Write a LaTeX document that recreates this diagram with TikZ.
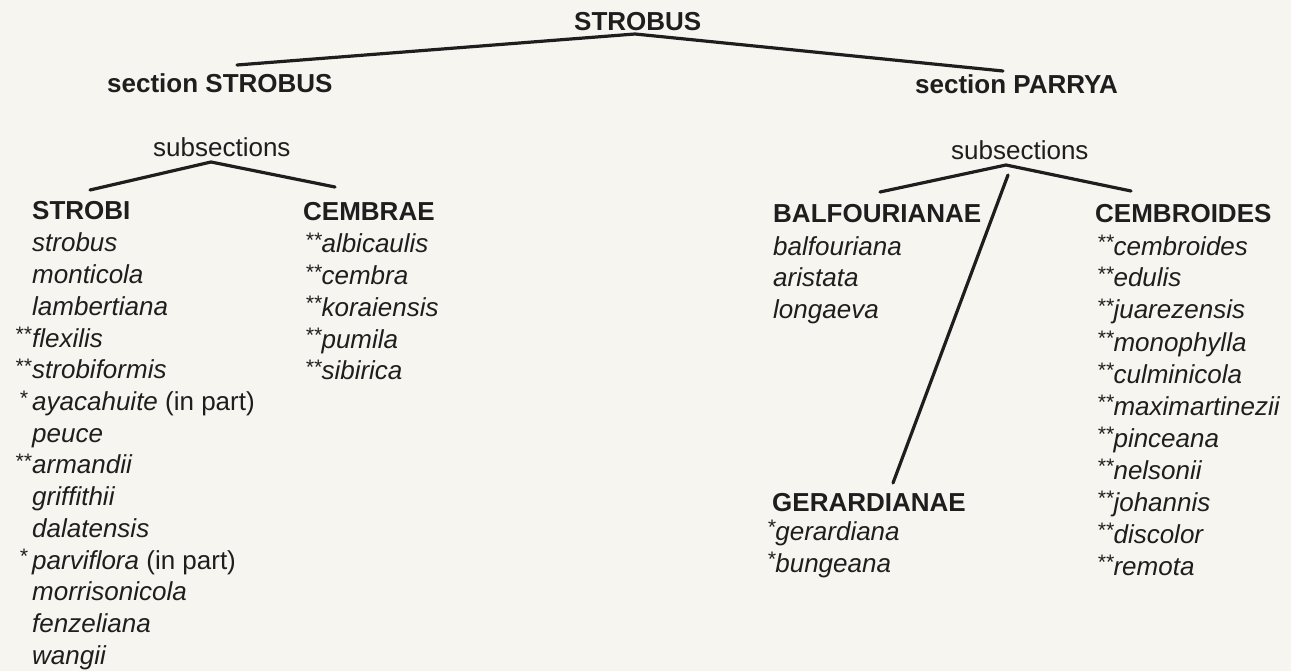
\documentclass[tikz,border=0pt]{standalone}
\usepackage{fontspec}
\setmainfont{Liberation Sans}
\definecolor{paper}{RGB}{246,245,240}
\definecolor{ink}{RGB}{30,30,30}
% small raised asterisk, as in the printed key
\newcommand\tstar{\raisebox{5.5pt}{\fontsize{21}{32}\selectfont*}}

\begin{document}
\begin{tikzpicture}[x=1pt, y=-1pt,
  every node/.style={inner sep=0pt, anchor=base west, text=ink},
  group/.style={font=\fontsize{26}{32}\selectfont\bfseries},
  subs/.style={font=\fontsize{26}{32}\selectfont},
  taxon/.style={font=\fontsize{26}{32}\selectfont\itshape},
  branch/.style={draw=ink, line width=3.2pt, line join=round, line cap=round}]
% Set the page size and paper colour
\fill[paper] (0,0) rectangle (1291,671);
\useasboundingbox (0,0) rectangle (1291,671);
\def\rowsep{31.7}

% Subgenus and its two sections
\node[group] (strobus) at (574,30.7) {STROBUS};
\node[group] (secstrobus) at (107,93) {section STROBUS};
\node[group] (secparrya) at (915,94) {section PARRYA};
\coordinate (top) at (635,34);
\coordinate (topL) at (237,65);
\coordinate (topR) at (1003,71);
\draw[branch] (topL) -- (top) -- (topR);

% section STROBUS
\node[subs] (subsL) at (153,157) {subsections};
\coordinate (forkL) at (211,162);
\coordinate (strobiEnd) at (90,190);
\coordinate (cembraeEnd) at (335,187);
\draw[branch] (strobiEnd) -- (forkL) -- (cembraeEnd);

\node[group] (strobi) at (32,220) {STROBI};
\foreach \taxname [count=\i from 0] in {strobus, monticola, lambertiana,
    \llap{\tstar\tstar\hspace{1pt}}flexilis, \llap{\tstar\tstar\hspace{1pt}}strobiformis,
    \llap{\tstar\hspace{5pt}}ayacahuite \textup{(in part)}, peuce,
    \llap{\tstar\tstar\hspace{1pt}}armandii, griffithii, dalatensis,
    \llap{\tstar\hspace{5pt}}parviflora \textup{(in part)},
    morrisonicola, fenzeliana, wangii}
  \node[taxon] (strobi\i) at (32,252+\i*\rowsep) {\taxname};

\node[group] (cembrae) at (303,221) {CEMBRAE};
\foreach \taxname [count=\i from 0] in {albicaulis, cembra, koraiensis, pumila, sibirica}
  \node[taxon] (cembrae\i) at (305,253+\i*\rowsep) {\tstar\tstar\taxname};

% section PARRYA
\node[subs] (subsR) at (951,160) {subsections};
\coordinate (forkR) at (1006,165);
\coordinate (balfEnd) at (880,192);
\coordinate (cembrEnd) at (1131,191);
\coordinate (gerStart) at (1008,175);
\coordinate (gerEnd) at (893,483);
\draw[branch] (balfEnd) -- (forkR) -- (cembrEnd);
\draw[branch] (gerStart) -- (gerEnd);

\node[group] (balfourianae) at (773,223) {BALFOURIANAE};
\foreach \taxname [count=\i from 0] in {balfouriana, aristata, longaeva}
  \node[taxon] (balf\i) at (773,255+\i*32) {\taxname};

\node[group] (gerardianae) at (772,511) {GERARDIANAE};
\foreach \taxname [count=\i from 0] in {gerardiana, bungeana}
  \node[taxon] (ger\i) at (767,540+\i*32) {\tstar\taxname};

\node[group] (cembroides) at (1095,223) {CEMBROIDES};
\foreach \taxname [count=\i from 0] in {cembroides, edulis, juarezensis, monophylla,
    culminicola, maximartinezii, pinceana, nelsonii, johannis, discolor, remota}
  \node[taxon] (cembr\i) at (1097,255+\i*32) {\tstar\tstar\taxname};
\end{tikzpicture}
\end{document}
